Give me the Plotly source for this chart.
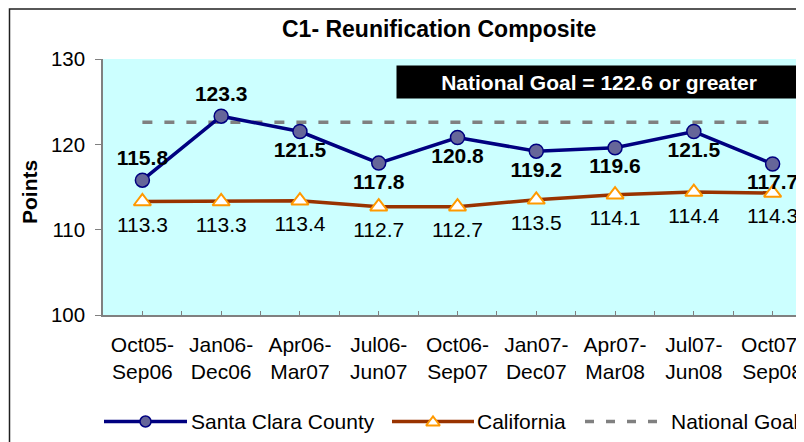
import plotly.graph_objects as go

categories = ["Oct05-<br>Sep06", "Jan06-<br>Dec06", "Apr06-<br>Mar07", "Jul06-<br>Jun07",
              "Oct06-<br>Sep07", "Jan07-<br>Dec07", "Apr07-<br>Mar08", "Jul07-<br>Jun08",
              "Oct07-<br>Sep08"]
santa_clara = [115.8, 123.3, 121.5, 117.8, 120.8, 119.2, 119.6, 121.5, 117.7]
california = [113.3, 113.3, 113.4, 112.7, 112.7, 113.5, 114.1, 114.4, 114.3]
national_goal = 122.6
santa_pos = ["top center", "top center", "bottom center", "bottom center", "bottom center",
             "bottom center", "bottom center", "bottom center", "bottom center"]
y_ticks = [100, 110, 120, 130]

# page offset (default body margin) and layout in window pixels
OFF = 8
FIG_W, FIG_H = 804, 442
WL, WT, WR, WB = 103, 59, FIG_W + OFF, FIG_H + OFF   # paper box in window px
PLOT_BOTTOM = 315
FONT = "Arial, Liberation Sans, sans-serif"


def px(x):
    return (x - WL) / (WR - WL)


def py(y):
    return (WB - y) / (WB - WT)


xs = list(range(len(categories)))

fig = go.Figure()

fig.add_trace(go.Scatter(
    x=xs, y=[national_goal] * len(xs), mode="lines",
    line=dict(color="#808080", width=3.5, dash="10px,12px"),
    showlegend=False, hoverinfo="skip"))

fig.add_trace(go.Scatter(
    x=xs, y=california, mode="lines+markers",
    line=dict(color="#993300", width=3.5),
    marker=dict(symbol="triangle-up", size=15, color="white",
                line=dict(color="#FF9900", width=2)),
    cliponaxis=False, showlegend=False))
fig.add_trace(go.Scatter(
    x=xs, y=california, mode="markers+text",
    marker=dict(size=22, color="rgba(0,0,0,0)"),
    text=[f"{v:.1f}" for v in california], textposition="bottom center",
    textfont=dict(family=FONT, size=21, color="black"),
    cliponaxis=False, showlegend=False, hoverinfo="skip"))

fig.add_trace(go.Scatter(
    x=xs, y=santa_clara, mode="lines+markers+text",
    line=dict(color="#000080", width=3.5),
    marker=dict(symbol="circle", size=14, color="#666699",
                line=dict(color="#000080", width=1.5)),
    text=[f"<b>{v:.1f}</b>" for v in santa_clara], textposition=santa_pos,
    textfont=dict(family=FONT, size=21, color="black"),
    cliponaxis=False, showlegend=False))

# legend drawn on a hidden pixel-scaled axis pair
LY = 421.5
leg = dict(mode="lines", xaxis="x2", yaxis="y2", showlegend=False, hoverinfo="skip")
fig.add_trace(go.Scatter(x=[104, 187], y=[LY, LY], line=dict(color="#000080", width=3.5), **leg))
fig.add_trace(go.Scatter(x=[392, 474], y=[LY, LY], line=dict(color="#993300", width=3.5), **leg))
fig.add_trace(go.Scatter(x=[585, 668], y=[LY, LY], line=dict(color="#808080", width=3.5, dash="9px,12px"), **leg))
fig.add_trace(go.Scatter(x=[145.5], y=[LY], mode="markers", xaxis="x2", yaxis="y2",
                         marker=dict(symbol="circle", size=11, color="#666699",
                                     line=dict(color="#000080", width=1.5)),
                         showlegend=False, hoverinfo="skip"))
fig.add_trace(go.Scatter(x=[433], y=[LY + 1], mode="markers", xaxis="x2", yaxis="y2",
                         marker=dict(symbol="triangle-up", size=12, color="white",
                                     line=dict(color="#FF9900", width=2)),
                         showlegend=False, hoverinfo="skip"))


def ann(text, x, y, size=21, color="black", xanchor="center", **kw):
    return dict(text=text, x=px(x), y=py(y), xref="paper", yref="paper", showarrow=False,
                xanchor=xanchor, yanchor="middle",
                font=dict(family=FONT, size=size, color=color), **kw)


annotations = [
    ann("<b>C1- Reunification Composite</b>", 439, 29, size=23),
    ann("<b>Points</b>", 29, 192, textangle=-90),
    ann("<b>National Goal = 122.6 or greater</b>", 599, 82, color="white",
        bgcolor="black", width=400, height=28, borderpad=2),
    ann("Santa Clara County", 189, LY, xanchor="left"),
    ann("California", 475, LY, xanchor="left"),
    ann("National Goal", 669, LY, xanchor="left"),
]

fig.update_layout(
    template="none",
    width=FIG_W, height=FIG_H,
    margin=dict(l=WL - OFF, r=0, t=WT - OFF, b=0, pad=0, autoexpand=False),
    paper_bgcolor="white", plot_bgcolor="white",
    font=dict(family=FONT, size=21, color="black"),
    xaxis=dict(range=[-0.5, len(categories) - 0.5], tickvals=xs, ticktext=categories,
               ticks="inside", ticklen=4, tickcolor="#808080", tickwidth=1,
               minor=dict(tickvals=[i - 0.5 for i in range(len(categories) + 1)],
                          ticks="inside", ticklen=4, tickcolor="#808080", tickwidth=1),
               showline=True, linecolor="#808080", linewidth=1.5,
               showgrid=False, zeroline=False, anchor="y", automargin=False,
               ticklabelstandoff=10,
               tickfont=dict(family=FONT, size=21, color="black")),
    yaxis=dict(range=[100, 130], tickvals=y_ticks, domain=[py(PLOT_BOTTOM), 1],
               ticks="outside", ticklen=6, tickcolor="#808080",
               showline=True, linecolor="#808080", linewidth=1.5,
               showgrid=False, zeroline=False, automargin=False,
               ticklabelstandoff=6,
               tickfont=dict(family=FONT, size=20.5, color="black")),
    xaxis2=dict(domain=[0, 1], range=[WL, WR], visible=False, anchor="y2", automargin=False),
    yaxis2=dict(domain=[0, py(395)], range=[WB, 395], visible=False, anchor="x2", automargin=False),
    annotations=annotations,
    shapes=[
        dict(type="rect", xref="x domain", yref="y domain", x0=0, x1=1, y0=0, y1=1,
             fillcolor="#CCFFFF", line=dict(width=0), layer="below"),
        dict(type="rect", xref="paper", yref="paper", x0=px(9.5), x1=px(860), y0=py(480), y1=py(9),
             line=dict(color="#202020", width=1.5), fillcolor="rgba(0,0,0,0)", layer="above"),
    ],
)

fig.write_html("out.html")
